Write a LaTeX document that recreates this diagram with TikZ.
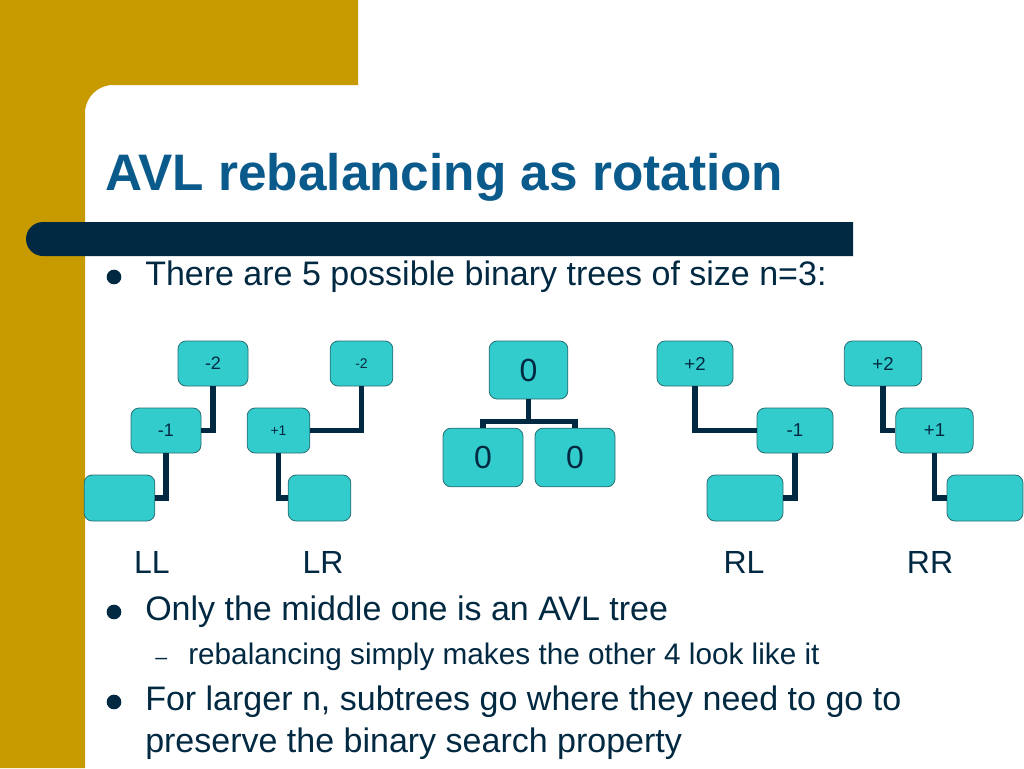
\documentclass[tikz,border=0pt]{standalone}
\usepackage{fontspec}
\setmainfont{Liberation Sans}
\definecolor{gold}{RGB}{199,155,0}
\definecolor{navy}{RGB}{2,41,66}
\definecolor{titleblue}{RGB}{10,90,140}
\definecolor{teal}{RGB}{51,204,204}
\definecolor{tealdark}{RGB}{40,110,115}
\begin{document}
\begin{tikzpicture}[x=0.75pt,y=-0.75pt,
  tnode/.style={draw=tealdark,line width=0.6pt,fill=teal,rounded corners=6pt,inner sep=0pt,text=navy},
  conn/.style={draw=navy,line width=4.2pt},
  body/.style={anchor=base west,text=navy,font=\fontsize{25.5pt}{30pt}\selectfont,inner sep=0pt},
  sub/.style={anchor=base west,text=navy,font=\fontsize{22.3pt}{26pt}\selectfont,inner sep=0pt},
  lab/.style={anchor=base,text=navy,font=\fontsize{24pt}{28pt}\selectfont,inner sep=0pt},
  bul/.style={fill=navy,circle,inner sep=0pt,minimum size=11pt}]
\useasboundingbox (0,0) rectangle (1024,768);
\fill[white] (0,0) rectangle (1024,768);
% gold L-shape
\fill[gold] (0,0) -- (358,0) -- (358,85) -- (113,85) arc[start angle=90,end angle=180,radius=21pt] -- (85,768) -- (0,768) -- cycle;
% navy bar
\fill[navy] (853,222) -- (43,222) arc[start angle=90,end angle=270,radius=12.75pt] -- (853,256) -- cycle;
% title
\node[anchor=base west,inner sep=0pt,text=titleblue,font=\fontsize{38.5pt}{44pt}\bfseries\selectfont] (title) at (105,190) {AVL rebalancing as rotation};
% bullets
\node[bul] (b1) at (114,277) {};
\node[body] (t1) at (145,285) {There are 5 possible binary trees of size n=3:};
% LL
\node[tnode,minimum width=52.5pt,minimum height=33.75pt,font=\fontsize{13.5pt}{16pt}\selectfont] (a1) at (213,363.5) {-2};
\node[tnode,minimum width=52.5pt,minimum height=33.75pt,font=\fontsize{13.5pt}{16pt}\selectfont] (a2) at (166,430.5) {-1};
\node[tnode,minimum width=53pt,minimum height=34.5pt] (a3) at (119.5,498) {};
\draw[conn] (a1.south) |- (a2.east);
\draw[conn] (a2.south) |- (a3.east);
% LR
\node[tnode,minimum width=47pt,minimum height=33.75pt,font=\fontsize{10.5pt}{12pt}\selectfont] (c1) at (361.5,363.5) {-2};
\node[tnode,minimum width=47pt,minimum height=33.75pt,font=\fontsize{10.5pt}{12pt}\selectfont] (c2) at (278.5,430.5) {+1};
\node[tnode,minimum width=47pt,minimum height=34.5pt] (c3) at (319.5,498) {};
\draw[conn] (c1.south) |- (c2.east);
\draw[conn] (c2.south) |- (c3.west);
% balanced
\node[tnode,minimum width=59pt,minimum height=43.5pt,font=\fontsize{24pt}{28pt}\selectfont] (m1) at (528.5,370) {0};
\node[tnode,minimum width=60pt,minimum height=44pt,font=\fontsize{24pt}{28pt}\selectfont] (m2) at (483,457.5) {0};
\node[tnode,minimum width=60pt,minimum height=44pt,font=\fontsize{24pt}{28pt}\selectfont] (m3) at (575,457.5) {0};
\draw[conn] (m1.south) -- ++(0,22) coordinate (mj);
\draw[conn] (m2.north) |- (mj) -| (m3.north);
% RL
\node[tnode,minimum width=57pt,minimum height=33.75pt,font=\fontsize{14pt}{16pt}\selectfont] (d1) at (695,363.5) {+2};
\node[tnode,minimum width=57pt,minimum height=33.75pt,font=\fontsize{14pt}{16pt}\selectfont] (d2) at (795,430.5) {-1};
\node[tnode,minimum width=57pt,minimum height=34.5pt] (d3) at (745,498) {};
\draw[conn] (d1.south) |- (d2.west);
\draw[conn] (d2.south) |- (d3.east);
% RR
\node[tnode,minimum width=58pt,minimum height=33.75pt,font=\fontsize{14pt}{16pt}\selectfont] (e1) at (883,363.5) {+2};
\node[tnode,minimum width=58pt,minimum height=33.75pt,font=\fontsize{14pt}{16pt}\selectfont] (e2) at (934.5,430.5) {+1};
\node[tnode,minimum width=57pt,minimum height=34.5pt] (e3) at (985,498) {};
\draw[conn] (e1.south) |- (e2.west);
\draw[conn] (e2.south) |- (e3.west);
% labels
\node[lab] (lll) at (152,573) {LL};
\node[lab] (llr) at (323,573) {LR};
\node[lab] (lrl) at (744,573) {RL};
\node[lab] (lrr) at (930,573) {RR};
% more bullets
\node[bul] (b2) at (114,612) {};
\node[body] (t2) at (145,620) {Only the middle one is an AVL tree};
\node[sub] (d) at (155,664) {\fontsize{16pt}{18pt}\selectfont –};
\node[sub] (t3) at (188,664) {rebalancing simply makes the other 4 look like it};
\node[bul] (b3) at (114,702) {};
\node[body] (t4) at (145,710) {For larger n, subtrees go where they need to go to};
\node[body] (t5) at (145,752) {preserve the binary search property};
\end{tikzpicture}
\end{document}
